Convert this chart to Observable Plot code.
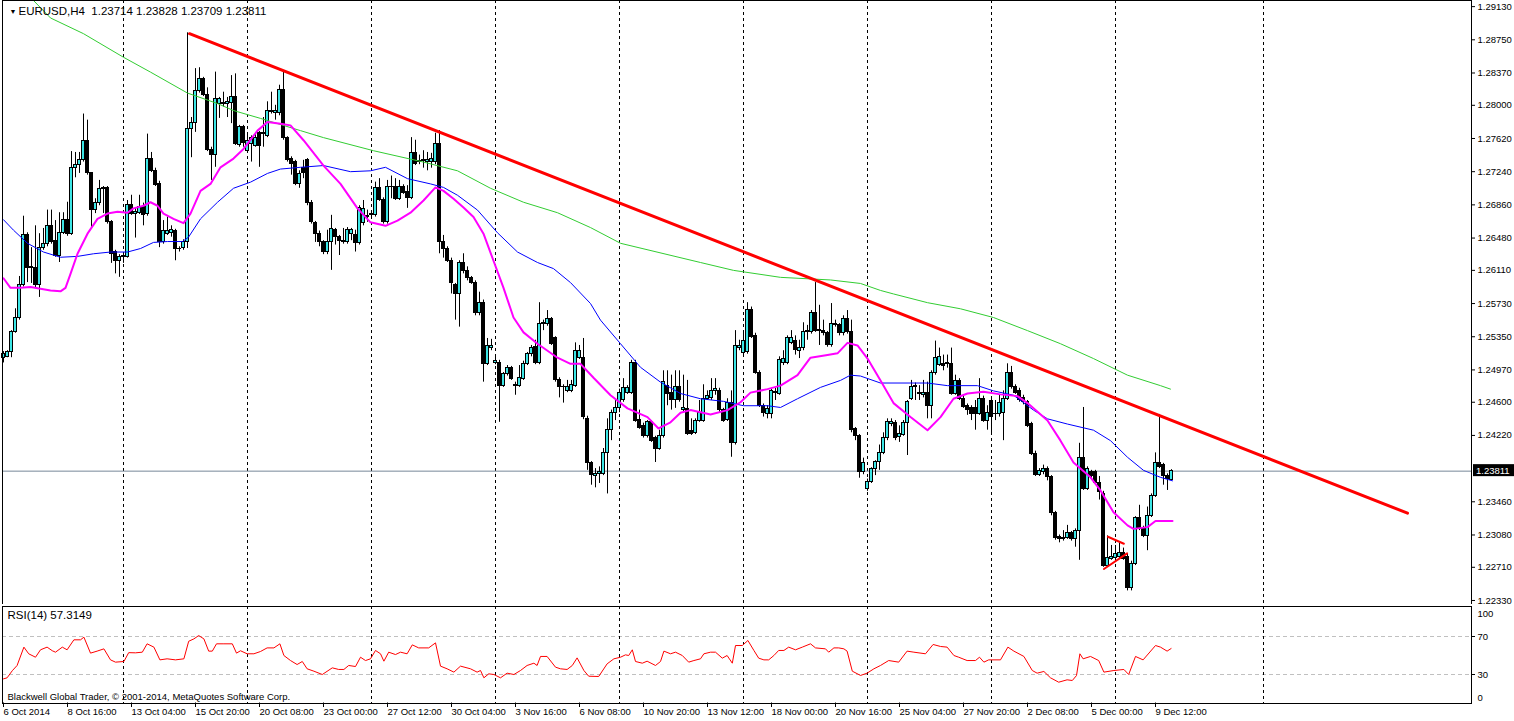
<!DOCTYPE html>
<html><head><meta charset="utf-8">
<script src="https://cdn.jsdelivr.net/npm/d3@7"></script>
<script src="https://cdn.jsdelivr.net/npm/@observablehq/plot@0.6"></script>
<style>
html,body{margin:0;padding:0;background:#fff;}
body{width:1514px;height:721px;overflow:hidden;position:relative;}
#main{position:absolute;left:0;top:0;}
#rsi{position:absolute;left:0;top:604px;}
svg{display:block;}
</style></head><body>
<div id="main"></div><div id="rsi"></div>
<script>
// ---------- DATA (EURUSD H4, bar index 0 = 6 Oct 2014 00:00) ----------
const barOpen = [
1.2511,1.2512,1.2517,1.2540,1.2556,1.2594,1.2651,1.2614,1.2614,1.2594,
1.2637,1.2641,1.2662,1.2645,1.2628,1.2654,1.2669,1.2653,1.2728,1.2732,
1.2737,1.2759,1.2722,1.2680,1.2688,1.2704,1.2705,1.2666,1.2632,1.2622,
1.2626,1.2626,1.2686,1.2676,1.2677,1.2683,1.2675,1.2739,1.2725,1.2710,
1.2643,1.2653,1.2654,1.2656,1.2636,1.2637,1.2644,1.2773,1.2780,1.2816,
1.2830,1.2812,1.2749,1.2743,1.2802,1.2802,1.2802,1.2803,1.2809,1.2755,
1.2775,1.2748,1.2756,1.2753,1.2768,1.2768,1.2765,1.2792,1.2791,1.2791,
1.2817,1.2762,1.2739,1.2735,1.2710,1.2728,1.2737,1.2688,1.2665,1.2653,
1.2643,1.2632,1.2643,1.2657,1.2649,1.2643,1.2643,1.2653,1.2651,1.2642,
1.2665,1.2672,1.2674,1.2674,1.2705,1.2692,1.2666,1.2706,1.2707,1.2693,
1.2707,1.2701,1.2694,1.2745,1.2735,1.2736,1.2735,1.2735,1.2735,1.2756,
1.2644,1.2636,1.2622,1.2594,1.2584,1.2620,1.2610,1.2602,1.2597,1.2562,
1.2574,1.2504,1.2522,1.2505,1.2505,1.2479,1.2492,1.2499,1.2479,1.2479,
1.2487,1.2504,1.2515,1.2523,1.2505,1.2550,1.2550,1.2555,1.2533,1.2486,
1.2478,1.2473,1.2473,1.2479,1.2511,1.2511,1.2441,1.2390,1.2376,1.2378,
1.2378,1.2402,1.2428,1.2448,1.2453,1.2462,1.2471,1.2471,1.2505,1.2440,
1.2433,1.2421,1.2437,1.2419,1.2407,1.2421,1.2479,1.2471,1.2462,1.2477,
1.2451,1.2452,1.2427,1.2425,1.2439,1.2439,1.2464,1.2465,1.2473,1.2473,
1.2451,1.2440,1.2459,1.2413,1.2522,1.2516,1.2517,1.2566,1.2536,1.2494,
1.2456,1.2447,1.2446,1.2471,1.2470,1.2505,1.2505,1.2528,1.2530,1.2519,
1.2522,1.2540,1.2540,1.2562,1.2541,1.2542,1.2539,1.2525,1.2550,1.2548,
1.2539,1.2555,1.2540,1.2429,1.2421,1.2380,1.2361,1.2369,1.2383,1.2391,
1.2402,1.2419,1.2435,1.2436,1.2420,1.2423,1.2436,1.2464,1.2477,1.2470,
1.2468,1.2471,1.2456,1.2493,1.2503,1.2504,1.2504,1.2504,1.2470,1.2484,
1.2464,1.2456,1.2453,1.2453,1.2447,1.2464,1.2439,1.2461,1.2446,1.2446,
1.2448,1.2464,1.2493,1.2478,1.2473,1.2465,1.2460,1.2435,1.2401,1.2377,
1.2380,1.2384,1.2374,1.2333,1.2306,1.2303,1.2305,1.2310,1.2303,1.2313,
1.2396,1.2361,1.2380,1.2380,1.2367,1.2355,1.2273,1.2281,1.2282,1.2283,
1.2287,1.2283,1.2247,1.2275,1.2327,1.2315,1.2307,1.2330,1.2353,1.2390,
1.2388,1.2376,1.23714];
const barHigh = [
1.2518,1.2519,1.2542,1.2567,1.2604,1.2673,1.2654,1.2637,1.2662,1.2653,
1.2659,1.2680,1.2680,1.2668,1.2677,1.2677,1.2689,1.2747,1.2746,1.2746,
1.2790,1.2783,1.2723,1.2693,1.2714,1.2707,1.2707,1.2668,1.2634,1.2629,
1.2630,1.2691,1.2697,1.2682,1.2697,1.2688,1.2767,1.2746,1.2728,1.2713,
1.2668,1.2672,1.2662,1.2658,1.2638,1.2646,1.2883,1.2786,1.2842,1.2843,
1.2832,1.2820,1.2752,1.2838,1.2809,1.2815,1.2809,1.2834,1.2836,1.2777,
1.2777,1.2768,1.2765,1.2768,1.2770,1.2786,1.2804,1.2815,1.2800,1.2823,
1.2838,1.2764,1.2741,1.2737,1.2725,1.2737,1.2739,1.2691,1.2667,1.2656,
1.2645,1.2657,1.2674,1.2659,1.2651,1.2659,1.2660,1.2659,1.2657,1.2685,
1.2691,1.2680,1.2677,1.2712,1.2716,1.2694,1.2714,1.2719,1.2716,1.2714,
1.2709,1.2708,1.2763,1.2760,1.2743,1.2748,1.2746,1.2745,1.2768,1.2771,
1.2651,1.2638,1.2625,1.2596,1.2622,1.2630,1.2615,1.2604,1.2599,1.2586,
1.2577,1.2533,1.2532,1.2514,1.2508,1.2494,1.2502,1.2501,1.2483,1.2502,
1.2507,1.2517,1.2525,1.2531,1.2574,1.2554,1.2565,1.2557,1.2535,1.2488,
1.2480,1.2485,1.2485,1.2528,1.2525,1.2533,1.2444,1.2392,1.2384,1.2386,
1.2407,1.2441,1.2451,1.2462,1.2475,1.2487,1.2479,1.2508,1.2508,1.2451,
1.2436,1.2439,1.2439,1.2421,1.2428,1.2496,1.2496,1.2491,1.2496,1.2496,
1.2491,1.2485,1.2441,1.2441,1.2462,1.2480,1.2473,1.2487,1.2487,1.2476,
1.2453,1.2464,1.2473,1.2542,1.2531,1.2542,1.2574,1.2569,1.2539,1.2496,
1.2458,1.2456,1.2476,1.2476,1.2512,1.2519,1.2536,1.2542,1.2536,1.2531,
1.2551,1.2548,1.2565,1.2597,1.2571,1.2554,1.2541,1.2573,1.2554,1.2550,
1.2559,1.2565,1.2554,1.2431,1.2423,1.2396,1.2372,1.2385,1.2393,1.2411,
1.2425,1.2441,1.2441,1.2439,1.2433,1.2439,1.2462,1.2485,1.2482,1.2479,
1.2485,1.2483,1.2496,1.2530,1.2522,1.2514,1.2514,1.2522,1.2491,1.2487,
1.2467,1.2458,1.2456,1.2462,1.2487,1.2467,1.2456,1.2464,1.2462,1.2468,
1.2473,1.2504,1.2501,1.2480,1.2476,1.2468,1.2462,1.2437,1.2404,1.2384,
1.2388,1.2386,1.2376,1.2335,1.2308,1.2313,1.2319,1.2312,1.2315,1.2413,
1.2454,1.2386,1.2382,1.2382,1.2375,1.2358,1.2307,1.2296,1.2296,1.2299,
1.2293,1.2286,1.2278,1.2329,1.2342,1.2318,1.2340,1.2355,1.2402,1.2446,
1.2390,1.2378,1.23828];
const barLow = [
1.2505,1.2511,1.2511,1.2539,1.2554,1.2592,1.2597,1.2596,1.2591,1.2580,
1.2634,1.2638,1.2641,1.2626,1.2620,1.2652,1.2650,1.2651,1.2717,1.2722,
1.2735,1.2720,1.2660,1.2676,1.2685,1.2676,1.2664,1.2619,1.2607,1.2603,
1.2619,1.2625,1.2674,1.2648,1.2675,1.2662,1.2673,1.2723,1.2707,1.2637,
1.2641,1.2651,1.2649,1.2622,1.2632,1.2634,1.2636,1.2740,1.2769,1.2814,
1.2810,1.2747,1.2714,1.2729,1.2785,1.2798,1.2786,1.2779,1.2754,1.2752,
1.2752,1.2746,1.2735,1.2752,1.2729,1.2752,1.2763,1.2790,1.2783,1.2788,
1.2760,1.2735,1.2720,1.2708,1.2705,1.2716,1.2685,1.2664,1.2643,1.2638,
1.2629,1.2629,1.2611,1.2640,1.2628,1.2641,1.2641,1.2645,1.2632,1.2640,
1.2662,1.2666,1.2670,1.2672,1.2690,1.2664,1.2664,1.2693,1.2691,1.2691,
1.2698,1.2682,1.2692,1.2731,1.2732,1.2728,1.2725,1.2728,1.2732,1.2630,
1.2625,1.2620,1.2584,1.2554,1.2546,1.2607,1.2599,1.2595,1.2559,1.2559,
1.2483,1.2502,1.2519,1.2503,1.2437,1.2477,1.2490,1.2485,1.2468,1.2477,
1.2485,1.2502,1.2512,1.2503,1.2503,1.2542,1.2547,1.2525,1.2483,1.2465,
1.2459,1.2471,1.2471,1.2477,1.2509,1.2440,1.2382,1.2365,1.2362,1.2367,
1.2376,1.2355,1.2416,1.2439,1.2448,1.2460,1.2469,1.2469,1.2437,1.2429,
1.2419,1.2419,1.2414,1.2391,1.2405,1.2419,1.2456,1.2451,1.2453,1.2460,
1.2448,1.2422,1.2422,1.2423,1.2437,1.2437,1.2462,1.2462,1.2468,1.2448,
1.2437,1.2438,1.2397,1.2411,1.2519,1.2514,1.2515,1.2533,1.2492,1.2454,
1.2443,1.2441,1.2441,1.2462,1.2468,1.2502,1.2503,1.2526,1.2514,1.2510,
1.2519,1.2531,1.2538,1.2540,1.2525,1.2536,1.2523,1.2523,1.2546,1.2536,
1.2536,1.2538,1.2425,1.2416,1.2373,1.2377,1.2358,1.2367,1.2376,1.2382,
1.2400,1.2416,1.2432,1.2416,1.2414,1.2421,1.2399,1.2462,1.2462,1.2462,
1.2465,1.2441,1.2441,1.2491,1.2501,1.2496,1.2499,1.2468,1.2468,1.2462,
1.2453,1.2445,1.2439,1.2428,1.2445,1.2437,1.2428,1.2424,1.2439,1.2443,
1.2416,1.2462,1.2475,1.2469,1.2460,1.2457,1.2431,1.2399,1.2375,1.2375,
1.2377,1.2370,1.2330,1.2302,1.2299,1.2301,1.2303,1.2301,1.2294,1.2279,
1.2359,1.2359,1.2373,1.2365,1.2348,1.2271,1.2271,1.2279,1.2280,1.2281,
1.2279,1.2244,1.2244,1.2273,1.2313,1.2305,1.2290,1.2328,1.2351,1.2384,
1.2365,1.2359,1.23709];
const barClose = [
1.2515,1.2517,1.2540,1.2556,1.2594,1.2651,1.2614,1.2615,1.2594,1.2637,
1.2641,1.2662,1.2643,1.2628,1.2654,1.2669,1.2653,1.2728,1.2732,1.2737,
1.2759,1.2722,1.2680,1.2688,1.2704,1.2705,1.2666,1.2630,1.2622,1.2626,
1.2628,1.2686,1.2676,1.2678,1.2683,1.2674,1.2739,1.2725,1.2709,1.2643,
1.2656,1.2656,1.2657,1.2635,1.2635,1.2644,1.2773,1.2780,1.2816,1.2830,
1.2812,1.2749,1.2743,1.2807,1.2807,1.2803,1.2804,1.2809,1.2756,1.2775,
1.2757,1.2759,1.2762,1.2762,1.2753,1.2767,1.2794,1.2794,1.2794,1.2817,
1.2762,1.2737,1.2733,1.2710,1.2721,1.2723,1.2688,1.2666,1.2653,1.2643,
1.2632,1.2643,1.2658,1.2649,1.2645,1.2645,1.2657,1.2657,1.2642,1.2682,
1.2681,1.2673,1.2675,1.2705,1.2692,1.2666,1.2706,1.2707,1.2693,1.2707,
1.2700,1.2694,1.2745,1.2733,1.2736,1.2737,1.2737,1.2738,1.2756,1.2643,
1.2636,1.2622,1.2596,1.2584,1.2620,1.2610,1.2602,1.2597,1.2562,1.2574,
1.2504,1.2524,1.2524,1.2507,1.2479,1.2492,1.2499,1.2487,1.2480,1.2488,
1.2504,1.2515,1.2522,1.2505,1.2550,1.2551,1.2555,1.2527,1.2485,1.2477,
1.2477,1.2478,1.2480,1.2519,1.2519,1.2443,1.2390,1.2377,1.2378,1.2380,
1.2402,1.2428,1.2448,1.2453,1.2471,1.2476,1.2476,1.2505,1.2439,1.2431,
1.2421,1.2437,1.2416,1.2407,1.2421,1.2483,1.2470,1.2462,1.2477,1.2462,
1.2453,1.2424,1.2424,1.2439,1.2448,1.2464,1.2467,1.2473,1.2475,1.2451,
1.2439,1.2459,1.2413,1.2524,1.2524,1.2530,1.2566,1.2535,1.2494,1.2456,
1.2448,1.2452,1.2473,1.2472,1.2508,1.2509,1.2534,1.2534,1.2520,1.2522,
1.2540,1.2541,1.2562,1.2542,1.2543,1.2539,1.2525,1.2550,1.2548,1.2539,
1.2555,1.2540,1.2428,1.2421,1.2380,1.2390,1.2369,1.2383,1.2391,1.2402,
1.2419,1.2437,1.2437,1.2419,1.2424,1.2436,1.2460,1.2478,1.2479,1.2471,
1.2471,1.2456,1.2493,1.2511,1.2512,1.2502,1.2505,1.2470,1.2484,1.2464,
1.2455,1.2451,1.2447,1.2447,1.2464,1.2439,1.2448,1.2443,1.2447,1.2459,
1.2464,1.2494,1.2477,1.2471,1.2462,1.2460,1.2433,1.2401,1.2377,1.2381,
1.2384,1.2374,1.2333,1.2305,1.2303,1.2305,1.2310,1.2303,1.2313,1.2396,
1.2361,1.2384,1.2376,1.2367,1.2357,1.2273,1.2282,1.2283,1.2286,1.2287,
1.2281,1.2247,1.2275,1.2327,1.2315,1.2307,1.2330,1.2353,1.2390,1.2386,
1.2376,1.2372,1.23811];

// moving averages (bar index, price)
const maFastBar = [0,1.75,4.25,6.75,9.25,11.75,14.25,15.5,16.75,18.5,21,23.5,26,28.5,31,32.5,35,36.75,38.5,40,42.5,45,46.75,49.25,51.75,54.25,57.5,60,63.5,66,69.25,71.75,75,80,84.25,88.5,91.75,95.5,98.5,101.75,105,108,110,112.5,115,117.5,120,122.5,125,127.5,130,133.5,138.5,141.75,144.25,147.5,151.75,156,161,163.75,166.75,169.25,171.75,176.75,181,184.25,186.75,191,194.25,198.5,201.75,206,208.5,211,213.5,216,219.25,222.5,226.75,231,234.25,237.5,241,245,249.25,253.5,256,261,264.25,267.5,271.75,274.25,277.5,281,282.5,286,288,292.25];
const maFastVal = [1.2602,1.2591,1.2591,1.2592,1.2590,1.2588,1.2587,1.2591,1.2607,1.2630,1.2653,1.2670,1.2676,1.2678,1.2677,1.2682,1.2685,1.2689,1.2685,1.2676,1.2670,1.2665,1.2676,1.2702,1.2710,1.2729,1.2739,1.2750,1.2771,1.2781,1.2779,1.2777,1.2760,1.2731,1.2710,1.2682,1.2666,1.2662,1.2668,1.2677,1.2691,1.2706,1.2702,1.2693,1.2683,1.2672,1.2653,1.2622,1.2591,1.2557,1.2540,1.2527,1.2511,1.2504,1.2504,1.2488,1.2468,1.2453,1.2443,1.2430,1.2437,1.2448,1.2451,1.2446,1.2451,1.2460,1.2471,1.2475,1.2479,1.2491,1.2511,1.2514,1.2516,1.2528,1.2525,1.2510,1.2485,1.2459,1.2443,1.2428,1.2443,1.2464,1.2470,1.2472,1.2469,1.2467,1.2459,1.2439,1.2416,1.2391,1.2374,1.2359,1.2334,1.2319,1.2315,1.2317,1.2324,1.2324];
const maMidBar = [0,2.5,6,10,14.25,18.5,22.5,26.75,31,34.25,37.5,41,44.75,46.25,49.25,53.5,57.5,61.75,66,69.25,74.25,80,86.75,91.75,95.5,101,106.75,110,113.5,118.5,123.5,128.5,133.5,137.5,141.75,146.75,149.25,154.25,159.25,164.25,169.25,174.25,180,185,191,194.25,198.5,204.25,209.25,211.75,214.25,219.25,231,236,243.5,247.5,252.5,257.5,261,266,272.5,276.75,281,285,289.25,292.25];
const maMidVal = [1.2669,1.2657,1.2642,1.2632,1.2626,1.2627,1.2630,1.2632,1.2632,1.2636,1.2643,1.2644,1.2644,1.2649,1.2670,1.2689,1.2705,1.2712,1.2722,1.2727,1.2729,1.2731,1.2724,1.2725,1.2729,1.2716,1.2710,1.2706,1.2697,1.2680,1.2654,1.2632,1.2620,1.2613,1.2597,1.2573,1.2554,1.2527,1.2500,1.2483,1.2470,1.2464,1.2461,1.2456,1.2456,1.2454,1.2464,1.2477,1.2485,1.2491,1.2490,1.2482,1.2482,1.2479,1.2479,1.2473,1.2468,1.2451,1.2441,1.2435,1.2428,1.2416,1.2397,1.2382,1.2374,1.2370];
const maSlowBar = [7.5,11.75,20,30,36.75,46,53.5,57.5,64.25,74.25,80,92.5,105,113.5,121.75,130,138.5,146.75,154.25,174.25,182.5,194.25,206.75,214.25,219.25,222.5,231,239.25,247.5,256,264.25,272.5,281,289.25,291.75];
const maSlowVal = [1.2920,1.2900,1.2882,1.2855,1.2838,1.2814,1.2802,1.2794,1.2785,1.2771,1.2763,1.2748,1.2735,1.2725,1.2705,1.2689,1.2677,1.2660,1.2642,1.2620,1.2611,1.2603,1.2600,1.2596,1.2588,1.2584,1.2574,1.2567,1.2557,1.2542,1.2527,1.2510,1.2491,1.2479,1.2475];

// hand-drawn trend lines (bar index, price)
const trendBar = [46.5, 351];
const trendPrice = [1.2882, 1.2333];
const flagUpBar = [276.1, 280.1];
const flagUpPrice = [1.2306, 1.2298];
const flagLowBar = [275.1, 280.9];
const flagLowPrice = [1.2269, 1.2287];

// RSI(14)
const rsiBar = [0,0.9,2.2,3.4,5.1,6.3,8,9.25,10.9,12.2,13,14.7,15.9,17.6,19.25,20.1,21.75,23.4,25.1,26.75,28,30.1,31.3,33,34.7,35.9,37.6,39.1,40.9,43,45.1,46.3,47.6,48.8,50.1,51.3,52.2,53.25,55.1,57.2,58.25,59.25,60.9,62.6,64.25,65.9,67.6,69.1,70.1,71.75,73.4,74.7,75.9,77.6,79.7,82.2,83.8,85.1,86.3,88,89.25,90.5,91.75,93,94.25,95.1,96.3,98,99.25,100.9,102.2,103.8,106.3,108,109.25,110.9,112.6,114.25,116.75,118.4,119.25,120.1,121.3,122.6,124.25,
125.9,127.6,129.25,130.9,132.6,133.4,134.25,135.9,138,139.25,140.9,142.2,143.4,145.1,146.3,148.8,150.9,152.6,154.25,155.5,156.3,157.2,158,159.7,160.9,163,164.25,165.1,166.75,168,169.7,171.3,172.6,174.25,175.1,176.75,178,179.7,180.9,182.2,183,184.7,186.1,187.6,188.8,190.1,191.3,192.6,193.8,195.1,196.3,198,199.7,201.75,203,205.5,206.3,207.6,208.8,210.1,210.9,212.2,214.25,215.9,217.6,219.25,221.3,223.8,225.9,227.6,230.5,232.4,234.25,235.9,237.6,238.8,240.9,243,244,245.1,246.3,249.25,
251.1,252.6,255.1,257.2,258.4,260.1,261.75,263.8,265.9,267.2,268.25,269.1,269.9,271.75,273.8,275.1,277.6,280.1,281.3,283,284.9,288,289.25,290.9,291.9];
const rsiVal = [25.4,26.5,34,39.5,58.8,51.8,48.2,56,58.8,55,53.5,58.8,56,66.5,66.5,69.3,52.5,54.6,57,45.4,43,43.7,53,52.8,53.5,62.3,58.8,45.4,46.5,45.4,46.5,65,67.5,71,67.5,54.6,54.6,62.3,62.3,62.3,52.5,55,51.8,51.8,54.2,58,58,62.3,50,44.7,40.5,43.7,36,33.5,30,37,35.3,35.3,39.5,38.4,48.2,44.7,46.5,55.3,51.8,44,53.5,51,53.5,51.8,61.2,58,58,63.3,38.8,36,32.5,38.8,36,32.5,34.2,26.5,30.7,30,26.5,
31.4,30,34.2,39.5,41.9,39.5,49,49,37.7,36,35.3,39.5,47.5,34.2,28.2,27.9,41.2,46.5,48.2,50.7,50,56,43.7,41.9,44,39.5,43.7,54.6,51.8,53.5,50,43,44.7,46.5,51.8,53.5,53.5,47.2,50,41.9,60.5,60.5,65.8,55.3,47.2,45.4,45.4,50,55.3,55.3,58.8,56,58.8,62.3,58,57,53.5,58,58,57,54.6,33.5,29,31.4,36,39.5,44.7,43,54.6,53.5,51.8,61.6,59.5,58.8,50,48.2,44.7,44.7,48.2,43,45.4,45.4,
58.8,54.6,49,34.2,31.4,33.2,26.5,21.9,24.4,23.7,28.9,51.8,46.5,49,44.7,32.5,34.2,35.3,30,49,45.4,60.5,58.8,54.6,57.3149];

// axes / labels
const priceTicks = [1.29130,1.28750,1.28370,1.28000,1.27620,1.27240,1.26860,1.26480,1.26110,1.25730,1.25350,1.24970,1.24600,1.24220,1.23460,1.23080,1.22710,1.22330];
const lastPrice = 1.23811;
const weekBars = [30,61,92,123,154,185,216,247,278,315];
const timeBars = [0,16,32,48,64,80,96,112,128,144,160,176,192,208,224,240,256,272,288];
const timeLabels = ["6 Oct 2014","8 Oct 16:00","13 Oct 04:00","15 Oct 20:00","20 Oct 08:00","23 Oct 00:00","27 Oct 12:00","30 Oct 04:00","3 Nov 16:00","6 Nov 08:00","10 Nov 20:00","13 Nov 12:00","18 Nov 00:00","20 Nov 16:00","25 Nov 04:00","27 Nov 20:00","2 Dec 08:00","5 Dec 00:00","9 Dec 12:00"];
const titleText = "EURUSD,H4  1.23714 1.23828 1.23709 1.23811";
const rsiTitle = "RSI(14) 57.3149";
const copyright = "Blackwell Global Trader, \u00A9 2001-2014, MetaQuotes Software Corp.";

// ---------- BUILD ----------
const F = '"Liberation Sans", Arial, sans-serif';
const FS = 9.5;
const FT = 11.5;
const BULL = "#3CE6E6";
const xDomain = [-0.25, 367];

const bars = barOpen.map((o, i) => ({i, o, h: barHigh[i], l: barLow[i], c: barClose[i]}));
const pairs = (bs, vs) => bs.slice(0, Math.min(bs.length, vs.length)).map((b, k) => ({b, v: vs[k]}));
const fast = pairs(maFastBar, maFastVal);
const mid = pairs(maMidBar, maMidVal);
const slow = pairs(maSlowBar, maSlowVal);
const trend = pairs(trendBar, trendPrice);
const flagUp = pairs(flagUpBar, flagUpPrice);
const flagLow = pairs(flagLowBar, flagLowPrice);
const rsi = pairs(rsiBar, rsiVal);

const main = Plot.plot({
  width: 1514, height: 606,
  marginLeft: 2, marginRight: 43, marginTop: 0, marginBottom: 2,
  style: {fontFamily: F, fontSize: FS + "px", background: "white", color: "black"},
  x: {domain: xDomain, axis: null},
  y: {domain: [1.22284, 1.2920], axis: null},
  marks: [
    Plot.ruleX(weekBars, {stroke: "black", strokeDasharray: "3,3"}),
    Plot.ruleY([lastPrice], {stroke: "#778899"}),
    Plot.ruleX(bars, {x: "i", y1: "l", y2: "h", stroke: "black"}),
    Plot.rect(bars, {x1: d => d.i - 0.375, x2: d => d.i + 0.375, y1: "o", y2: "c",
      fill: d => d.c > d.o ? BULL : "black", stroke: "black", strokeWidth: 1, shapeRendering: "crispEdges"}),
    Plot.line(slow, {x: "b", y: "v", stroke: "#32CD32", strokeWidth: 1, clip: true}),
    Plot.line(mid, {x: "b", y: "v", stroke: "#0000FF", strokeWidth: 1}),
    Plot.line(fast, {x: "b", y: "v", stroke: "#FF00FF", strokeWidth: 2}),
    Plot.line(trend, {x: "b", y: "v", stroke: "#FF0000", strokeWidth: 3}),
    Plot.line(flagUp, {x: "b", y: "v", stroke: "#FF0000", strokeWidth: 2}),
    Plot.line(flagLow, {x: "b", y: "v", stroke: "#FF0000", strokeWidth: 2}),
    Plot.frame({stroke: "black"}),
    Plot.axisY(priceTicks, {anchor: "right", tickSize: 3, tickPadding: 3, label: null,
      tickFormat: d => d.toFixed(5), fontSize: FS}),
    Plot.text(["\u25BC"], {frameAnchor: "top-left", dx: 7, dy: 11, textAnchor: "start", lineAnchor: "middle", fontSize: 7}),
    Plot.text([titleText], {frameAnchor: "top-left", dx: 16, dy: 11, textAnchor: "start", lineAnchor: "middle", fontSize: FT})
  ]
});
document.getElementById("main").appendChild(main);
{
  // current-price marker on the price axis, placed with the chart's own y scale
  const yv = main.scale("y").apply(lastPrice);
  const xr = main.scale("x").range[1];
  const g = d3.select(main).append("g");
  g.append("rect").attr("x", xr + 2).attr("y", yv - 6.5).attr("width", 1514 - xr - 2).attr("height", 12).attr("fill", "black");
  g.append("text").attr("x", xr + 5).attr("y", yv).attr("dy", "0.35em").attr("fill", "white")
    .attr("text-anchor", "start")
    .style("font-family", F).style("font-size", FS + "px").text(lastPrice.toFixed(5));
}

const rsiChart = Plot.plot({
  width: 1514, height: 117,
  marginLeft: 2, marginRight: 43, marginTop: 3.5, marginBottom: 18.5,
  style: {fontFamily: F, fontSize: FS + "px", background: "white", color: "black", overflow: "visible"},
  x: {domain: xDomain, axis: null},
  y: {domain: [0, 100], axis: null},
  marks: [
    Plot.ruleY([70, 30], {stroke: "#C0C0C0", strokeDasharray: "4,3"}),
    Plot.ruleX(weekBars, {stroke: "black", strokeDasharray: "3,3", insetTop: -1.5, insetBottom: -0.5}),
    Plot.line(rsi, {x: "b", y: "v", stroke: "#FF0000", strokeWidth: 1}),
    Plot.frame({stroke: "black", insetTop: -1.5, insetBottom: -0.5}),
    Plot.axisY([70, 30], {anchor: "right", tickSize: 3, tickPadding: 3, label: null, fontSize: FS}),
    Plot.text([100], {y: d => d, frameAnchor: "right", dx: 6, dy: 5.5, textAnchor: "start", text: d => String(d), fontSize: FS}),
    Plot.text([0], {y: d => d, frameAnchor: "right", dx: 6, dy: -5.5, textAnchor: "start", text: d => String(d), fontSize: FS}),
    Plot.text([rsiTitle], {frameAnchor: "top-left", dx: 5, dy: 7.5, textAnchor: "start", lineAnchor: "middle", fontSize: FT}),
    Plot.text([copyright], {frameAnchor: "bottom-left", dx: 5, dy: -6.5, textAnchor: "start", lineAnchor: "middle", fontSize: FS}),
    Plot.ruleX(timeBars, {y1: 0, y2: 0, insetBottom: -4.5, stroke: "black"}),
    Plot.text(timeLabels, {x: (d, k) => timeBars[k], y: 0, dy: 9, dx: 0, textAnchor: "start", lineAnchor: "middle", fontSize: FS})
  ]
});
document.getElementById("rsi").appendChild(rsiChart);
</script>
</body></html>
